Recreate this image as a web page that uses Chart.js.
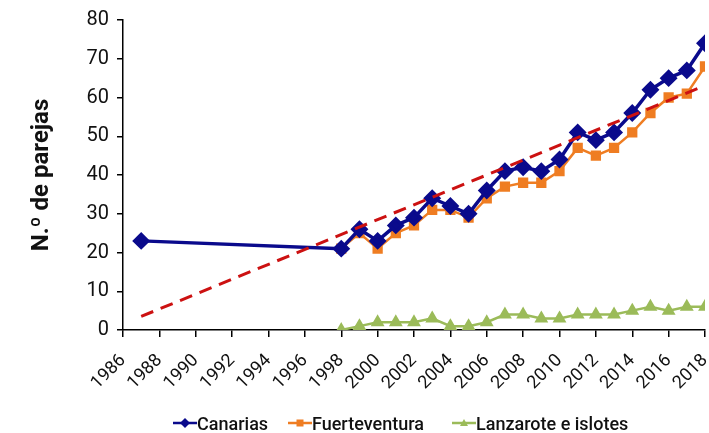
<!DOCTYPE html>
<html>
<head>
<meta charset="utf-8">
<script src="https://cdn.jsdelivr.net/npm/chart.js@4"></script>
<style>
html,body{margin:0;padding:0;background:#fff;}
#wrap{position:relative;width:709px;height:433px;}
#legend{position:absolute;left:0;top:411px;width:709px;height:24px;font-family:Roboto,sans-serif;font-size:18px;font-weight:500;color:#111;}
.item{position:absolute;top:0;height:24px;display:flex;align-items:center;white-space:nowrap;}
.item svg{display:block;margin-right:0;}
</style>
</head>
<body>
<div id="wrap"><canvas id="c" width="709" height="433"></canvas><div id="legend"></div></div>
<script>
const canariasYears = [1987,1998,1999,2000,2001,2002,2003,2004,2005,2006,2007,2008,2009,2010,2011,2012,2013,2014,2015,2016,2017,2018];
const canariasValues = [23,21,26,23,27,29,34,32,30,36,41,42,41,44,51,49,51,56,62,65,67,74];
const islandYears = [1998,1999,2000,2001,2002,2003,2004,2005,2006,2007,2008,2009,2010,2011,2012,2013,2014,2015,2016,2017,2018];
const fuerteventuraValues = [21,25,21,25,27,31,31,29,34,37,38,38,41,47,45,47,51,56,60,61,68];
const lanzaroteValues = [0,1,2,2,2,3,1,1,2,4,4,3,3,4,4,4,5,6,5,6,6];
const trendYears = [1987,2017.6];
const trendValues = [3.5,62.3];
const seriesNames = ['Canarias','Fuerteventura','Lanzarote e islotes'];
const yTitle = 'N.º de parejas';

const NAVY = '#0a0a8c', ORANGE = '#ef7d22', GREEN = '#9bbb59', RED = '#cc1111';
const COLORS = [NAVY, ORANGE, GREEN];
const SHAPES = ['diamond','square','triangle'];
const LEGEND_LEFT = [173, 288, 452];

function pts(xs, ys){ return xs.map((x,i)=>({x:x,y:ys[i]})); }

// HTML legend
const legendEl = document.getElementById('legend');
seriesNames.forEach((name,i)=>{
  const c = COLORS[i];
  let marker;
  if(SHAPES[i]==='diamond') marker = `<polygon points="12,7 17,12 12,17 7,12" fill="${c}"/>`;
  else if(SHAPES[i]==='square') marker = `<rect x="8.5" y="8.5" width="7" height="7" fill="${c}"/>`;
  else marker = `<polygon points="12,8 16,15 8,15" fill="${c}"/>`;
  const div = document.createElement('div');
  div.className = 'item';
  div.style.left = LEGEND_LEFT[i] + 'px';
  div.innerHTML = `<svg width="24" height="24"><line x1="0" y1="12" x2="24" y2="12" stroke="${c}" stroke-width="2.5"/>${marker}</svg><span>${name}</span>`;
  legendEl.appendChild(div);
});

new Chart(document.getElementById('c'), {
  type: 'line',
  data: {
    datasets: [
      { label: seriesNames[0], data: pts(canariasYears, canariasValues), borderColor: NAVY, backgroundColor: NAVY,
        borderWidth: 3.5, pointStyle: 'rectRot', pointRadius: 6.5, pointHoverRadius: 6.5, order: 1 },
      { label: seriesNames[1], data: pts(islandYears, fuerteventuraValues), borderColor: ORANGE, backgroundColor: ORANGE,
        borderWidth: 2.5, pointStyle: 'rect', pointRadius: 5.5, pointHoverRadius: 5.5, order: 2 },
      { label: seriesNames[2], data: pts(islandYears, lanzaroteValues), borderColor: GREEN, backgroundColor: GREEN,
        borderWidth: 2.5, pointStyle: 'triangle', pointRadius: 5.5, pointHoverRadius: 5.5, order: 3 },
      { label: 'trend', data: pts(trendYears, trendValues), borderColor: RED, borderWidth: 3, borderDash: [13,8],
        pointRadius: 0, order: 0 }
    ]
  },
  options: {
    responsive: false,
    animation: false,
    layout: { autoPadding: false, padding: { top: 8, right: 4, left: 28, bottom: 34 } },
    scales: {
      x: {
        type: 'linear', min: 1986, max: 2018,
        border: { color: '#000', width: 1.5 },
        grid: { display: true, drawOnChartArea: false, color: '#000', tickLength: 7, lineWidth: 1.5 },
        ticks: { stepSize: 2, minRotation: 45, maxRotation: 45, color: '#111', padding: 13,
          font: { family: 'Roboto', size: 18 }, callback: v => String(v) },
        afterFit: s => { s.height = 69; s.paddingLeft = 0; s.paddingRight = 0; }
      },
      y: {
        min: 0, max: 80,
        border: { color: '#000', width: 1.5 },
        grid: { display: true, drawOnChartArea: false, color: '#000', tickLength: 6, lineWidth: 1.5 },
        ticks: { stepSize: 10, color: '#111', padding: 8, font: { family: 'Roboto', size: 20 } },
        title: { display: true, text: yTitle, color: '#111', padding: { bottom: 0, top: 0 },
          font: { family: 'Roboto', size: 24, weight: 'bold' } },
        afterFit: s => { s.width = 123 - 28; }
      }
    },
    plugins: {
      tooltip: { enabled: false },
      legend: { display: false }
    }
  }
});
</script>
</body>
</html>
